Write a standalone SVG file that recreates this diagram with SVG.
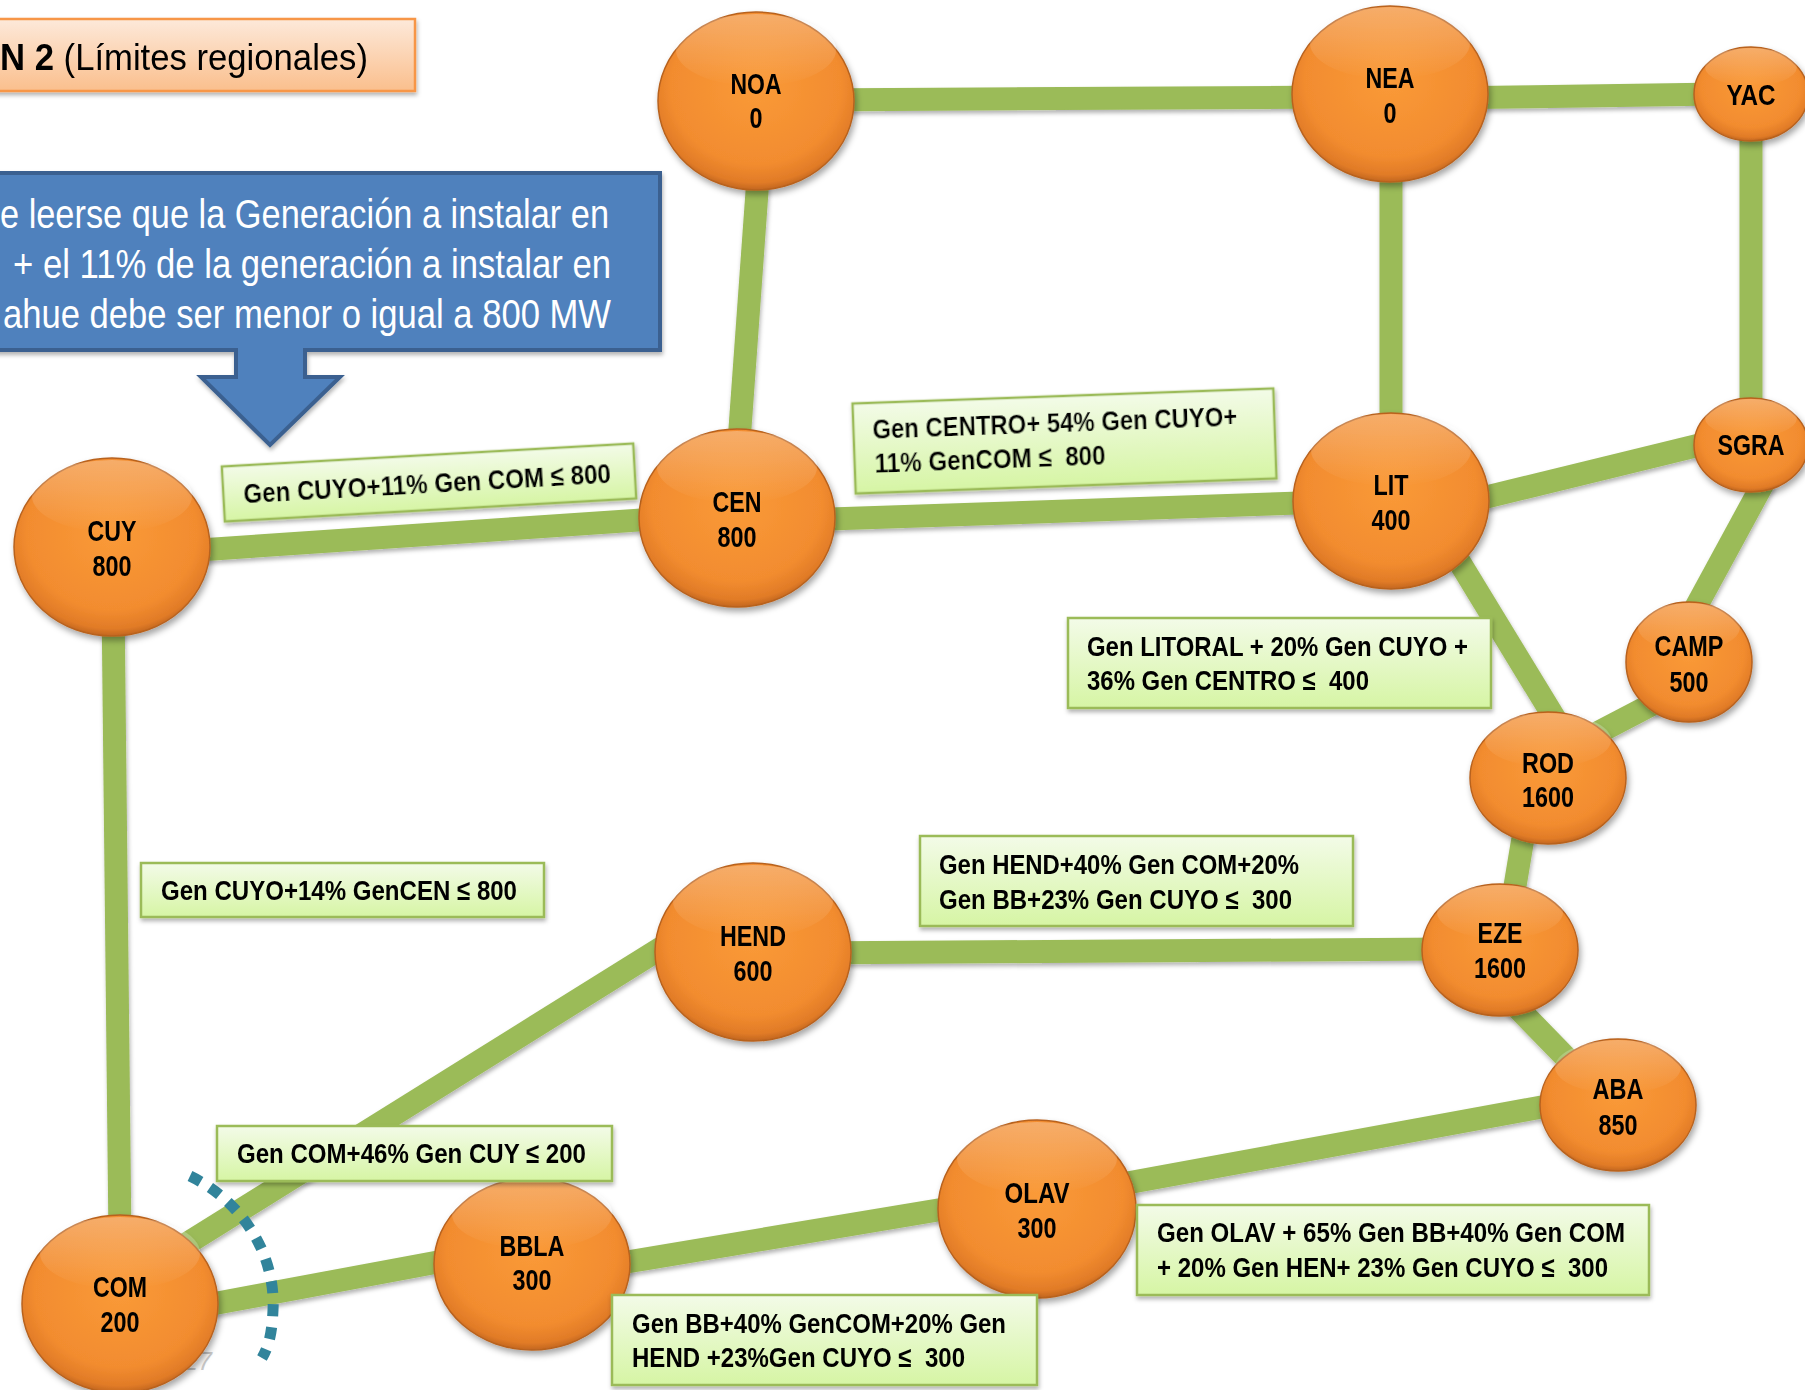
<svg xmlns="http://www.w3.org/2000/svg" width="1805" height="1390" viewBox="0 0 1805 1390">
<style>
.edge{stroke:#9BBB59;stroke-width:23;stroke-linecap:butt;fill:none}
.node{fill:url(#nodeGrad);stroke:#B8621F;stroke-width:1.5}
.gloss{fill:url(#glossGrad)}
.nt{font-family:"Liberation Sans",Arial,sans-serif;font-weight:bold;font-size:29.5px;fill:#000;text-anchor:middle}
.lbl{fill:url(#lblGrad);stroke:#9BBB59;stroke-width:2.5}
.lt{font-family:"Liberation Sans",Arial,sans-serif;font-weight:bold;font-size:28.5px;fill:#000;white-space:pre}
.bt{font-family:"Liberation Sans",Arial,sans-serif;font-size:40px;fill:#fff}
</style>
<defs>
<radialGradient id="nodeGrad" cx="50%" cy="42%" r="58%">
<stop offset="0" stop-color="#FA9A38"/>
<stop offset="0.75" stop-color="#F28C2F"/>
<stop offset="0.93" stop-color="#E17B27"/>
<stop offset="1" stop-color="#C2661F"/>
</radialGradient>
<linearGradient id="glossGrad" x1="0" y1="0" x2="0" y2="1">
<stop offset="0" stop-color="#fff" stop-opacity="0.28"/>
<stop offset="1" stop-color="#fff" stop-opacity="0"/>
</linearGradient>
<linearGradient id="lblGrad" x1="0" y1="0" x2="0" y2="1">
<stop offset="0" stop-color="#F3FBE8"/>
<stop offset="1" stop-color="#D6F5A4"/>
</linearGradient>
<linearGradient id="titleGrad" x1="0" y1="0" x2="0" y2="1">
<stop offset="0" stop-color="#FDE9DA"/>
<stop offset="1" stop-color="#FABF8D"/>
</linearGradient>
<filter id="sh" x="-20%" y="-20%" width="140%" height="150%">
<feDropShadow dx="2" dy="4" stdDeviation="3" flood-color="#000" flood-opacity="0.35"/>
</filter>
<filter id="shs" x="-10%" y="-30%" width="120%" height="160%">
<feDropShadow dx="1" dy="3" stdDeviation="2" flood-color="#000" flood-opacity="0.3"/>
</filter>
</defs>
<rect width="1805" height="1390" fill="#fff"/>

<g id="title" filter="url(#shs)">
<rect x="-5" y="19" width="420" height="72" fill="url(#titleGrad)" stroke="#F79646" stroke-width="2.5"/>
<text x="0" y="70" font-family="Liberation Sans,Arial,sans-serif" font-size="36" fill="#000" textLength="368" lengthAdjust="spacingAndGlyphs"><tspan font-weight="bold">N 2</tspan> (Límites regionales)</text>
</g>

<g id="callout">
<path d="M -5 173 H 660 V 350 H 305 V 377 H 340 L 270 445 L 201 377 H 236 V 350 H -5 Z" fill="#4F81BD" stroke="#3B6190" stroke-width="4" stroke-linejoin="miter" filter="url(#shs)"/>
<text class="bt" x="0" y="228" textLength="609" lengthAdjust="spacingAndGlyphs">e leerse que la Generación a instalar en</text>
<text class="bt" x="13" y="278" textLength="598" lengthAdjust="spacingAndGlyphs">+ el 11% de la generación a instalar en</text>
<text class="bt" x="3" y="328" textLength="608" lengthAdjust="spacingAndGlyphs">ahue debe ser menor o igual a 800 MW</text>
</g>

<text x="184" y="1370" font-family="Liberation Sans,sans-serif" font-size="25" font-style="italic" fill="#c9c9c9">27</text>

<g id="connectors" filter="url(#shs)">
<line class="edge" x1="800" y1="100" x2="1350" y2="97"/>
<line class="edge" x1="1440" y1="98" x2="1720" y2="94"/>
<line class="edge" x1="760" y1="150" x2="737" y2="470"/>
<line class="edge" x1="1391" y1="150" x2="1391" y2="450"/>
<line class="edge" x1="1751" y1="120" x2="1751" y2="420"/>
<line class="edge" x1="170" y1="552" x2="690" y2="516.6"/>
<line class="edge" x1="800" y1="520" x2="1330" y2="502"/>
<line class="edge" x1="1450" y1="506" x2="1720" y2="440"/>
<line class="edge" x1="1765" y1="480" x2="1690" y2="618"/>
<line class="edge" x1="1440" y1="530" x2="1560" y2="727"/>
<line class="edge" x1="1670" y1="695" x2="1580" y2="742"/>
<line class="edge" x1="1526" y1="820" x2="1511" y2="910"/>
<line class="edge" x1="800" y1="953" x2="1450" y2="949"/>
<line class="edge" x1="1510" y1="1000" x2="1580" y2="1072"/>
<line class="edge" x1="1100" y1="1188" x2="1580" y2="1100"/>
<line class="edge" x1="600" y1="1266.5" x2="980" y2="1203"/>
<line class="edge" x1="180" y1="1310" x2="470" y2="1256"/>
<line class="edge" x1="175" y1="1251" x2="690" y2="930"/>
<line class="edge" x1="113" y1="600" x2="120" y2="1240"/>
</g>

<g id="n-NOA" filter="url(#sh)"><ellipse class="node" cx="756" cy="101" rx="98" ry="89"/><ellipse class="gloss" cx="756" cy="50" rx="80" ry="36"/><text class="nt" x="756" y="94" textLength="51" lengthAdjust="spacingAndGlyphs">NOA</text><text class="nt" x="756" y="128" textLength="13" lengthAdjust="spacingAndGlyphs">0</text></g>
<g id="n-NEA" filter="url(#sh)"><ellipse class="node" cx="1390" cy="94" rx="98" ry="88"/><ellipse class="gloss" cx="1390" cy="43" rx="80" ry="36"/><text class="nt" x="1390" y="88" textLength="49" lengthAdjust="spacingAndGlyphs">NEA</text><text class="nt" x="1390" y="123" textLength="13" lengthAdjust="spacingAndGlyphs">0</text></g>
<g id="n-YAC" filter="url(#sh)"><ellipse class="node" cx="1751" cy="94" rx="57" ry="47"/><ellipse class="gloss" cx="1751" cy="67" rx="46" ry="19"/><text class="nt" x="1751" y="105" textLength="49" lengthAdjust="spacingAndGlyphs">YAC</text></g>
<g id="n-CEN" filter="url(#sh)"><ellipse class="node" cx="737" cy="518" rx="98" ry="89"/><ellipse class="gloss" cx="737" cy="467" rx="80" ry="36"/><text class="nt" x="737" y="512" textLength="49" lengthAdjust="spacingAndGlyphs">CEN</text><text class="nt" x="737" y="547" textLength="39" lengthAdjust="spacingAndGlyphs">800</text></g>
<g id="n-LIT" filter="url(#sh)"><ellipse class="node" cx="1391" cy="501" rx="98" ry="88"/><ellipse class="gloss" cx="1391" cy="450" rx="80" ry="36"/><text class="nt" x="1391" y="495" textLength="35" lengthAdjust="spacingAndGlyphs">LIT</text><text class="nt" x="1391" y="530" textLength="39" lengthAdjust="spacingAndGlyphs">400</text></g>
<g id="n-SGRA" filter="url(#sh)"><ellipse class="node" cx="1751" cy="445" rx="57" ry="47"/><ellipse class="gloss" cx="1751" cy="418" rx="46" ry="19"/><text class="nt" x="1751" y="455" textLength="67" lengthAdjust="spacingAndGlyphs">SGRA</text></g>
<g id="n-CUY" filter="url(#sh)"><ellipse class="node" cx="112" cy="547" rx="98" ry="89"/><ellipse class="gloss" cx="112" cy="496" rx="80" ry="36"/><text class="nt" x="112" y="541" textLength="49" lengthAdjust="spacingAndGlyphs">CUY</text><text class="nt" x="112" y="576" textLength="39" lengthAdjust="spacingAndGlyphs">800</text></g>
<g id="n-CAMP" filter="url(#sh)"><ellipse class="node" cx="1689" cy="662" rx="63" ry="60"/><ellipse class="gloss" cx="1689" cy="627" rx="51" ry="24"/><text class="nt" x="1689" y="656" textLength="69" lengthAdjust="spacingAndGlyphs">CAMP</text><text class="nt" x="1689" y="692" textLength="39" lengthAdjust="spacingAndGlyphs">500</text></g>
<g id="n-ROD" filter="url(#sh)"><ellipse class="node" cx="1548" cy="778" rx="78" ry="66"/><ellipse class="gloss" cx="1548" cy="740" rx="63" ry="27"/><text class="nt" x="1548" y="773" textLength="52" lengthAdjust="spacingAndGlyphs">ROD</text><text class="nt" x="1548" y="807" textLength="52" lengthAdjust="spacingAndGlyphs">1600</text></g>
<g id="n-EZE" filter="url(#sh)"><ellipse class="node" cx="1500" cy="950" rx="78" ry="66"/><ellipse class="gloss" cx="1500" cy="912" rx="63" ry="27"/><text class="nt" x="1500" y="943" textLength="45" lengthAdjust="spacingAndGlyphs">EZE</text><text class="nt" x="1500" y="978" textLength="52" lengthAdjust="spacingAndGlyphs">1600</text></g>
<g id="n-ABA" filter="url(#sh)"><ellipse class="node" cx="1618" cy="1105" rx="78" ry="66"/><ellipse class="gloss" cx="1618" cy="1067" rx="63" ry="27"/><text class="nt" x="1618" y="1099" textLength="51" lengthAdjust="spacingAndGlyphs">ABA</text><text class="nt" x="1618" y="1135" textLength="39" lengthAdjust="spacingAndGlyphs">850</text></g>
<g id="n-HEND" filter="url(#sh)"><ellipse class="node" cx="753" cy="952" rx="98" ry="89"/><ellipse class="gloss" cx="753" cy="901" rx="80" ry="36"/><text class="nt" x="753" y="946" textLength="66" lengthAdjust="spacingAndGlyphs">HEND</text><text class="nt" x="753" y="981" textLength="39" lengthAdjust="spacingAndGlyphs">600</text></g>
<g id="n-OLAV" filter="url(#sh)"><ellipse class="node" cx="1037" cy="1209" rx="99" ry="89"/><ellipse class="gloss" cx="1037" cy="1158" rx="80" ry="36"/><text class="nt" x="1037" y="1203" textLength="65" lengthAdjust="spacingAndGlyphs">OLAV</text><text class="nt" x="1037" y="1238" textLength="39" lengthAdjust="spacingAndGlyphs">300</text></g>
<g id="n-BBLA" filter="url(#sh)"><ellipse class="node" cx="532" cy="1264" rx="98" ry="86"/><ellipse class="gloss" cx="532" cy="1214" rx="80" ry="35"/><text class="nt" x="532" y="1256" textLength="65" lengthAdjust="spacingAndGlyphs">BBLA</text><text class="nt" x="532" y="1290" textLength="39" lengthAdjust="spacingAndGlyphs">300</text></g>
<g id="n-COM" filter="url(#sh)"><ellipse class="node" cx="120" cy="1304" rx="98" ry="89"/><ellipse class="gloss" cx="120" cy="1253" rx="80" ry="36"/><text class="nt" x="120" y="1297" textLength="54" lengthAdjust="spacingAndGlyphs">COM</text><text class="nt" x="120" y="1332" textLength="39" lengthAdjust="spacingAndGlyphs">200</text></g>

<path id="cut" d="M 190 1176 C 240 1200 276 1252 273 1310 C 272 1333 269 1346 262 1358" fill="none" stroke="#31849B" stroke-width="11" stroke-dasharray="12 11"/>

<g id="labels">
<g id="l-A" transform="translate(429,482) rotate(-3.2)" filter="url(#shs)"><rect class="lbl" x="-206" y="-27" width="412" height="55"/><text class="lt" x="-186" y="11" textLength="368" lengthAdjust="spacingAndGlyphs">Gen CUYO+11% Gen COM ≤ 800</text></g>
<g id="l-B" transform="translate(1064,441) rotate(-2.05)" filter="url(#shs)"><rect class="lbl" x="-210" y="-45" width="421" height="90"/><text class="lt" x="-191" y="-9" textLength="365" lengthAdjust="spacingAndGlyphs">Gen CENTRO+ 54% Gen CUYO+</text><text class="lt" x="-190" y="25" textLength="231" lengthAdjust="spacingAndGlyphs">11% GenCOM ≤  800</text></g>
<g id="l-C" filter="url(#shs)"><rect class="lbl" x="1068" y="618" width="423" height="90"/><text class="lt" x="1087" y="656" textLength="381" lengthAdjust="spacingAndGlyphs">Gen LITORAL + 20% Gen CUYO +</text><text class="lt" x="1087" y="690" textLength="282" lengthAdjust="spacingAndGlyphs">36% Gen CENTRO ≤  400</text></g>
<g id="l-D" filter="url(#shs)"><rect class="lbl" x="141" y="863" width="403" height="54"/><text class="lt" x="161" y="900" textLength="356" lengthAdjust="spacingAndGlyphs">Gen CUYO+14% GenCEN ≤ 800</text></g>
<g id="l-E" filter="url(#shs)"><rect class="lbl" x="920" y="836" width="433" height="90"/><text class="lt" x="939" y="874" textLength="360" lengthAdjust="spacingAndGlyphs">Gen HEND+40% Gen COM+20%</text><text class="lt" x="939" y="909" textLength="353" lengthAdjust="spacingAndGlyphs">Gen BB+23% Gen CUYO ≤  300</text></g>
<g id="l-F" filter="url(#shs)"><rect class="lbl" x="217" y="1126" width="395" height="55"/><text class="lt" x="237" y="1163" textLength="349" lengthAdjust="spacingAndGlyphs">Gen COM+46% Gen CUY ≤ 200</text></g>
<g id="l-G" filter="url(#shs)"><rect class="lbl" x="1137" y="1205" width="512" height="90"/><text class="lt" x="1157" y="1242" textLength="468" lengthAdjust="spacingAndGlyphs">Gen OLAV + 65% Gen BB+40% Gen COM</text><text class="lt" x="1157" y="1277" textLength="451" lengthAdjust="spacingAndGlyphs">+ 20% Gen HEN+ 23% Gen CUYO ≤  300</text></g>
<g id="l-H" filter="url(#shs)"><rect class="lbl" x="612" y="1295" width="425" height="90"/><text class="lt" x="632" y="1333" textLength="374" lengthAdjust="spacingAndGlyphs">Gen BB+40% GenCOM+20% Gen</text><text class="lt" x="632" y="1367" textLength="333" lengthAdjust="spacingAndGlyphs">HEND +23%Gen CUYO ≤  300</text></g>
</g>
</svg>
